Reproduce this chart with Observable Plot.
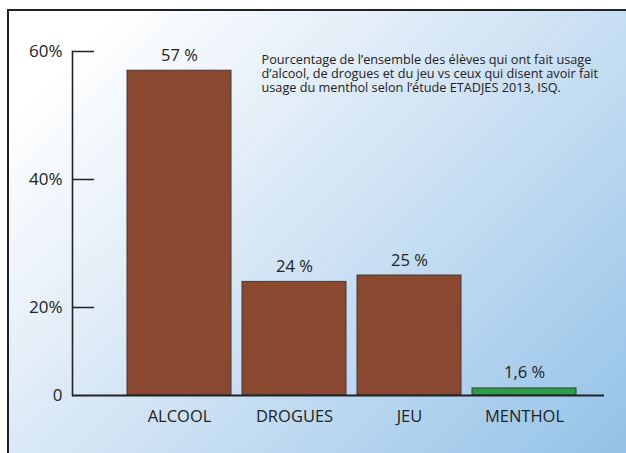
<!DOCTYPE html>
<html>
<head>
<meta charset="utf-8">
<script src="https://cdn.jsdelivr.net/npm/d3@7"></script>
<script src="https://cdn.jsdelivr.net/npm/@observablehq/plot@0.6"></script>
<style>
  html, body { margin: 0; padding: 0; background: #fff; }
  #wrap { position: relative; width: 626px; height: 453px; overflow: hidden; }
  #bg {
    position: absolute; left: 7px; top: 9px; right: 0; bottom: 0;
    border-left: 2.5px solid #222; border-top: 2.5px solid #222;
    background: linear-gradient(135deg, #ffffff 10%, #dbe9f6 42%, #bcd8f0 68%, #93c2e8 100%);
  }
  #chart { position: absolute; left: 0; top: 0; }
  #chart svg { background: transparent !important; }
</style>
</head>
<body>
<div id="wrap"><div id="bg"></div><div id="chart"></div></div>
<script>
const categories = ["ALCOOL", "DROGUES", "JEU", "MENTHOL"];
const values = [57, 24, 25, 1.6];
const colors = ["#8b4830", "#8b4830", "#8b4830", "#2c9e48"];
const yTicks = [0, 20, 40, 60];
const caption = "Pourcentage de l’ensemble des élèves qui ont fait usage\nd’alcool, de drogues et du jeu vs ceux qui disent avoir fait\nusage du menthol selon l’étude ETADJES 2013, ISQ.";

const data = categories.map((c, i) => ({cat: c, value: values[i], color: colors[i]}));
const fmt = v => String(v).replace(".", ",") + " %";
const font = "'Open Sans', sans-serif";

const chart = Plot.plot({
  width: 626,
  height: 453,
  marginLeft: 72,
  marginRight: 22,
  marginTop: 51,
  marginBottom: 58,
  style: {background: "transparent", fontFamily: font, color: "#222"},
  x: {domain: categories, range: [120.5, 583.2], paddingInner: 0.095, paddingOuter: 0.0475, label: null},
  y: {type: "linear", domain: [0, 20, 60], range: [395, 307, 51], label: null},
  marks: [
    Plot.frame({anchor: "left", stroke: "#222", strokeWidth: 1.6}),
    Plot.barY(data, {x: "cat", y: "value", fill: "color", stroke: "#3b3b3b", strokeWidth: 1}),
    Plot.ruleY([0], {stroke: "#222", strokeWidth: 1.8}),
    Plot.axisY({ticks: yTicks.filter(d => d > 0), tickSize: -22, tickFormat: () => "", stroke: "#222", strokeWidth: 1.5, label: null}),
    Plot.axisY({ticks: yTicks, tickSize: 0, tickPadding: 10, tickFormat: d => d === 0 ? "0" : d + "%", fontSize: 17, fill: "#222", label: null}),
    Plot.axisX({tickSize: 0, tickPadding: 15, fontSize: 16.5, fill: "#222", label: null}),
    Plot.text(data, {x: "cat", y: "value", text: d => fmt(d.value), dy: -10, lineAnchor: "bottom", fontSize: 16.5, fill: "#222"}),
    Plot.text([caption], {text: d => d, frameAnchor: "top-left", dx: 189, dy: 3, textAnchor: "start", lineAnchor: "top", lineHeight: 1.1, fontSize: 12.7, fill: "#222"})
  ]
});
document.getElementById("chart").appendChild(chart);
</script>
</body>
</html>
